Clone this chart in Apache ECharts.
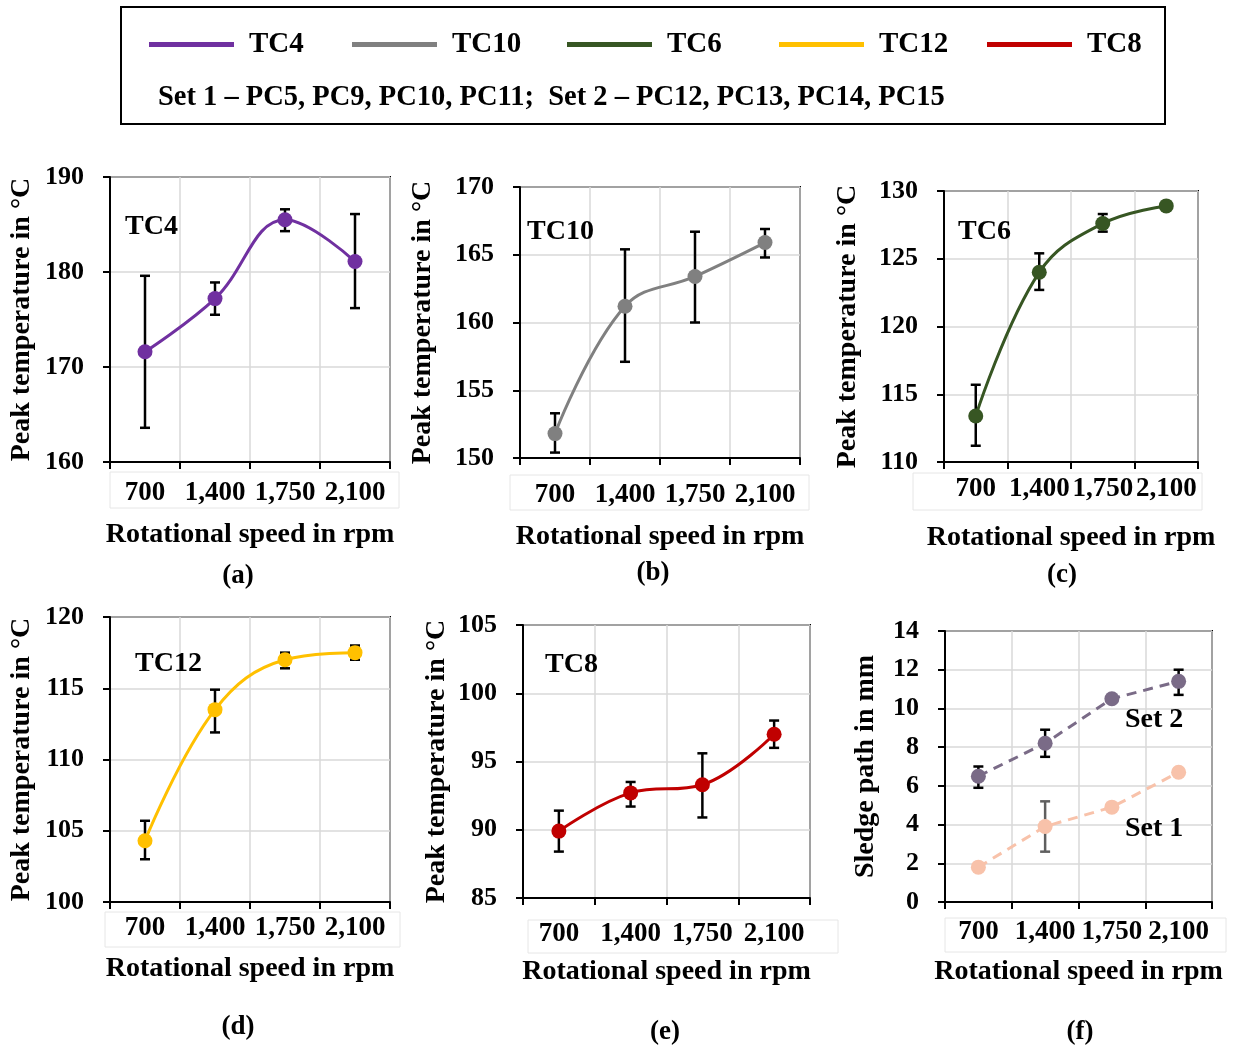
<!DOCTYPE html>
<html>
<head>
<meta charset="utf-8">
<script src="https://cdn.jsdelivr.net/npm/echarts@6/dist/echarts.min.js"></script>
<style>
  html, body { margin: 0; padding: 0; background: #fff; }
  #main { width: 1240px; height: 1050px; }
</style>
</head>
<body>
<div id="main"></div>
<script>
// rotational speed categories
const speeds = ['700', '1,400', '1,750', '2,100']

// peak temperatures (°C) with error bar bounds
const tc4 = [171.6, 177.2, 185.5, 181.1]
const tc4Lo = [163.6, 175.5, 184.3, 176.2]
const tc4Hi = [179.6, 178.9, 186.6, 186.1]

const tc10 = [151.8, 161.2, 163.4, 165.9]
const tc10Lo = [150.4, 157.1, 160.0, 164.8]
const tc10Hi = [153.3, 165.4, 166.7, 166.9]

const tc6 = [113.4, 124.0, 127.6, 128.9]
const tc6Lo = [111.2, 122.7, 127.0, null]
const tc6Hi = [115.7, 125.4, 128.3, null]

const tc12 = [104.3, 113.5, 117.0, 117.5]
const tc12Lo = [103.0, 111.9, 116.4, 117.0]
const tc12Hi = [105.7, 114.9, 117.5, 118.0]

const tc8 = [89.9, 92.7, 93.3, 97.0]
const tc8Lo = [88.4, 91.7, 90.9, 96.0]
const tc8Hi = [91.4, 93.5, 95.6, 98.0]

// sledge path (mm)
const set2 = [6.5, 8.2, 10.5, 11.4]
const set2Lo = [5.9, 7.5, null, 10.7]
const set2Hi = [7.0, 8.9, null, 12.0]
const set1 = [1.8, 3.9, 4.9, 6.7]
const set1Lo = [null, 2.6, null, null]
const set1Hi = [null, 5.2, null, null]

// y axis ranges per panel
const yMin = [160, 150, 110, 100, 85, 0]
const yMax = [190, 170, 130, 120, 105, 14]
const yStep = [10, 5, 5, 5, 5, 2]

const FONT = 'Liberation Serif'

// panel layout: grid box, gaps, labels
const panels = [
  { left: 110, top: 177, width: 280, height: 285, lblM: 18, xGap: 59, yGap: 74, tag: '(a)', tagX: 238, tagY: 576, box: [110, 472, 289, 36] },
  { left: 520, top: 187, width: 280, height: 271, lblM: 24, xGap: 65, yGap: 83, tag: '(b)', tagX: 653, tagY: 573, box: [510, 475, 299, 35] },
  { left: 944, top: 191, width: 254, height: 271, lblM: 14, xGap: 62, yGap: 82, tag: '(c)', tagX: 1062, tagY: 575, box: [913, 473, 289, 37] },
  { left: 110, top: 617, width: 280, height: 285, lblM: 13, xGap: 53, yGap: 74, tag: '(d)', tagX: 238, tagY: 1027, box: [105, 912, 295, 35] },
  { left: 523, top: 625, width: 287, height: 273, lblM: 23, xGap: 60, yGap: 72, tag: '(e)', tagX: 665, tagY: 1032, box: [528, 920, 310, 33] },
  { left: 945, top: 631, width: 267, height: 271, lblM: 17, xGap: 56, yGap: 65, tag: '(f)', tagX: 1080, tagY: 1032, box: [945, 918, 281, 34] }
]

const yNames = ['Peak temperature in °C', 'Peak temperature in °C', 'Peak temperature in °C',
  'Peak temperature in °C', 'Peak temperature in °C', 'Sledge path in mm']

// in-plot captions
const captions = [
  { text: 'TC4', x: 125, y: 227 },
  { text: 'TC10', x: 527, y: 232 },
  { text: 'TC6', x: 958, y: 232 },
  { text: 'TC12', x: 135, y: 664 },
  { text: 'TC8', x: 545, y: 665 },
  { text: 'Set 2', x: 1125, y: 720 },
  { text: 'Set 1', x: 1125, y: 829 }
]

const legendNames = ['TC4', 'TC10', 'TC6', 'TC12', 'TC8']
const legendX = [149, 352, 567, 779, 987]

const colors = { TC4: '#7030A0', TC10: '#808080', TC6: '#375623', TC12: '#FFC000', TC8: '#C00000', set2: '#7A6B87', set1: '#F8C2AA' }

const grids = panels.map(p => ({
  left: p.left, top: p.top, width: p.width, height: p.height,
  show: true, borderColor: '#000', borderWidth: 2, backgroundColor: 'transparent'
}))

const xAxes = panels.map((p, i) => ({
  type: 'category', gridIndex: i, data: speeds,
  name: 'Rotational speed in rpm', nameLocation: 'middle', nameGap: p.xGap,
  nameTextStyle: { fontFamily: FONT, fontWeight: 'bold', fontSize: 28, color: '#000' },
  axisLine: { lineStyle: { color: '#000', width: 2 } },
  axisTick: { show: true, length: 7, lineStyle: { color: '#000', width: 2 } },
  axisLabel: { interval: 0, margin: p.lblM, fontFamily: FONT, fontWeight: 'bold', fontSize: 27, color: '#000' },
  splitLine: { show: true, interval: 0, lineStyle: { color: '#d9d9d9', width: 1.5 } }
}))

const yAxes = panels.map((p, i) => ({
  type: 'value', gridIndex: i, min: yMin[i], max: yMax[i], interval: yStep[i],
  name: yNames[i], nameLocation: 'middle', nameGap: p.yGap,
  nameTextStyle: { fontFamily: FONT, fontWeight: 'bold', fontSize: 28, color: '#000' },
  axisLine: { show: true, lineStyle: { color: '#000', width: 2 } },
  axisTick: { show: true, length: 7, lineStyle: { color: '#000', width: 2 } },
  axisLabel: { margin: 26, fontFamily: FONT, fontWeight: 'bold', fontSize: 26, color: '#000' },
  splitLine: { show: true, lineStyle: { color: '#d9d9d9', width: 1.5 } }
}))

function errData(lo, hi) {
  const out = []
  lo.forEach((v, k) => { if (v != null && hi[k] != null) out.push([k, v, hi[k]]) })
  return out
}

function errSeries(idx, lo, hi, color) {
  return {
    type: 'custom', xAxisIndex: idx, yAxisIndex: idx, z: 3,
    data: errData(lo, hi),
    encode: { x: 0, y: [1, 2] },
    renderItem: function (params, api) {
      const a = api.coord([api.value(0), api.value(1)])
      const b = api.coord([api.value(0), api.value(2)])
      const w = 5
      const st = { stroke: color, lineWidth: 2.5 }
      return {
        type: 'group',
        children: [
          { type: 'line', shape: { x1: a[0], y1: a[1], x2: b[0], y2: b[1] }, style: st },
          { type: 'line', shape: { x1: a[0] - w, y1: a[1], x2: a[0] + w, y2: a[1] }, style: st },
          { type: 'line', shape: { x1: b[0] - w, y1: b[1], x2: b[0] + w, y2: b[1] }, style: st }
        ]
      }
    }
  }
}

function lineSeries(idx, name, data, color, dashed) {
  return {
    type: 'line', name: name, xAxisIndex: idx, yAxisIndex: idx, data: data, z: 4,
    smooth: dashed ? false : 0.4,
    symbol: 'circle', symbolSize: 15,
    itemStyle: { color: color },
    lineStyle: { color: color, width: 3, type: dashed ? [10, 7] : 'solid' }
  }
}

const series = [
  lineSeries(0, 'TC4', tc4, colors.TC4), errSeries(0, tc4Lo, tc4Hi, '#000'),
  lineSeries(1, 'TC10', tc10, colors.TC10), errSeries(1, tc10Lo, tc10Hi, '#000'),
  lineSeries(2, 'TC6', tc6, colors.TC6), errSeries(2, tc6Lo, tc6Hi, '#000'),
  lineSeries(3, 'TC12', tc12, colors.TC12), errSeries(3, tc12Lo, tc12Hi, '#000'),
  lineSeries(4, 'TC8', tc8, colors.TC8), errSeries(4, tc8Lo, tc8Hi, '#000'),
  lineSeries(5, 'Set 2', set2, colors.set2, true), errSeries(5, set2Lo, set2Hi, '#000'),
  lineSeries(5, 'Set 1', set1, colors.set1, true), errSeries(5, set1Lo, set1Hi, '#5f5f5f')
]

const legends = legendNames.map((n, i) => ({
  data: [{ name: n, icon: 'rect' }],
  left: legendX[i], top: 30, padding: 0,
  itemWidth: 85, itemHeight: 5, selectedMode: false,
  textStyle: { fontFamily: FONT, fontWeight: 'bold', fontSize: 29, color: '#000', padding: [0, 0, 0, 10] }
}))

const graphics = [
  { type: 'rect', shape: { x: 121, y: 7, width: 1044, height: 117 }, style: { fill: 'none', stroke: '#000', lineWidth: 2 }, z: 0 },
  { type: 'text', x: 158, y: 98, style: { text: 'Set 1 – PC5, PC9, PC10, PC11;  Set 2 – PC12, PC13, PC14, PC15', font: 'bold 28.5px "Liberation Serif"', fill: '#000', verticalAlign: 'middle' } }
]
panels.forEach(p => {
  graphics.push({ type: 'rect', shape: { x: p.box[0], y: p.box[1], width: p.box[2], height: p.box[3] }, style: { fill: 'none', stroke: '#e6e6e6', lineWidth: 1 }, z: 0 })
  graphics.push({ type: 'text', x: p.tagX, y: p.tagY, style: { text: p.tag, font: 'bold 27px "Liberation Serif"', fill: '#000', align: 'center', verticalAlign: 'middle' } })
})
captions.forEach(c => {
  graphics.push({ type: 'text', x: c.x, y: c.y, style: { text: c.text, font: 'bold 28px "Liberation Serif"', fill: '#000', verticalAlign: 'middle' }, z: 10 })
})

const chart = echarts.init(document.getElementById('main'))
chart.setOption({
  animation: false,
  backgroundColor: '#fff',
  legend: legends,
  grid: grids,
  xAxis: xAxes,
  yAxis: yAxes,
  series: series,
  graphic: graphics
})
</script>
</body>
</html>
